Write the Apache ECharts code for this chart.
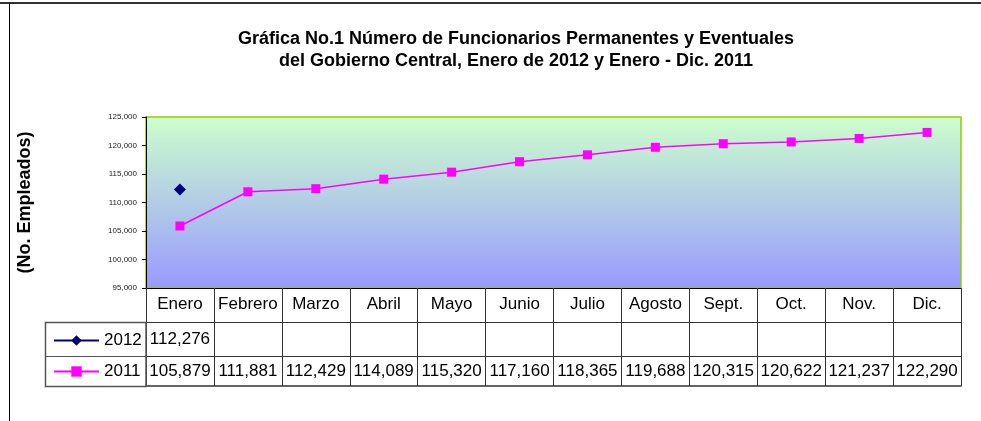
<!DOCTYPE html>
<html>
<head>
<meta charset="utf-8">
<script src="https://cdn.jsdelivr.net/npm/echarts@6/dist/echarts.min.js"></script>
<style>
html,body{margin:0;padding:0;background:#fff;}
#c{width:981px;height:421px;}
</style>
</head>
<body>
<div id="c"></div>
<script>
var categories = ['Enero','Febrero','Marzo','Abril','Mayo','Junio','Julio','Agosto','Sept.','Oct.','Nov.','Dic.'];
var values2012 = [112276, null, null, null, null, null, null, null, null, null, null, null];
var values2011 = [105879, 111881, 112429, 114089, 115320, 117160, 118365, 119688, 120315, 120622, 121237, 122290];
var seriesNames = ['2012', '2011'];
var yTicks = { min: 95000, max: 125000, interval: 5000 };

function fmt(v){ return (v === null || v === undefined) ? '' : Number(v).toLocaleString('en-US'); }

var FONT = 'Arial, "Liberation Sans", sans-serif';
var LINE = '#333333';

var chart = echarts.init(document.getElementById('c'), null, {renderer: 'canvas'});
chart.setOption({
  backgroundColor: '#ffffff',
  animation: false,
  title: {
    text: 'Gráfica No.1 Número de Funcionarios Permanentes y Eventuales\ndel Gobierno Central, Enero de 2012 y Enero - Dic. 2011',
    left: 511, top: 23, textAlign: 'center',
    textStyle: { fontFamily: FONT, fontSize: 18, fontWeight: 'bold', color: '#000', lineHeight: 22 }
  },
  legend: {
    orient: 'vertical', left: 48, top: 327,
    data: seriesNames,
    itemWidth: 45, itemHeight: 13, itemGap: 14,
    textStyle: { fontFamily: FONT, fontSize: 17, color: '#000', lineHeight: 17 },
    selectedMode: false
  },
  grid: {
    left: 146, right: 20, top: 117, bottom: 133,
    show: true, borderColor: '#99CC00', borderWidth: 1.5,
    backgroundColor: new echarts.graphic.LinearGradient(0, 0, 0, 1, [
      { offset: 0, color: '#CCFFCC' },
      { offset: 1, color: '#9999FF' }
    ])
  },
  xAxis: [
    {
      type: 'category', data: categories, position: 'bottom', boundaryGap: true,
      axisLine: { show: true, lineStyle: { color: '#000', width: 1 } },
      axisTick: { show: true, interval: 0, length: 34, lineStyle: { color: LINE } },
      axisLabel: { interval: 0, margin: 8, fontFamily: FONT, fontSize: 17, color: '#000' },
      splitLine: { show: false }
    },
    {
      type: 'category', data: categories, position: 'bottom', offset: 34, boundaryGap: true,
      axisLine: { show: true, lineStyle: { color: LINE, width: 1 } },
      axisTick: { show: true, interval: 0, length: 34, lineStyle: { color: LINE } },
      axisLabel: { interval: 0, margin: 9, fontFamily: FONT, fontSize: 17, color: '#000',
        formatter: function (v, i) { return fmt(values2012[i]); } }
    },
    {
      type: 'category', data: categories, position: 'bottom', offset: 68, boundaryGap: true,
      axisLine: { show: true, lineStyle: { color: LINE, width: 1 } },
      axisTick: { show: true, interval: 0, length: 30, lineStyle: { color: LINE } },
      axisLabel: { interval: 0, margin: 7, fontFamily: FONT, fontSize: 17, color: '#000',
        formatter: function (v, i) { return fmt(values2011[i]); } }
    },
    {
      type: 'category', data: categories, position: 'bottom', offset: 98, boundaryGap: true,
      axisLine: { show: true, lineStyle: { color: LINE, width: 1.5 } },
      axisTick: { show: false }, axisLabel: { show: false }
    }
  ],
  yAxis: {
    type: 'value', min: yTicks.min, max: yTicks.max, interval: yTicks.interval,
    name: '(No. Empleados)', nameLocation: 'middle', nameGap: 112, nameRotate: 90,
    nameTextStyle: { fontFamily: FONT, fontSize: 18, fontWeight: 'bold', color: '#000' },
    axisLine: { show: true, lineStyle: { color: '#000', width: 1 } },
    axisTick: { show: true, length: 4, lineStyle: { color: '#000' } },
    axisLabel: { margin: 9, fontFamily: FONT, fontSize: 8, color: '#222', formatter: function (v) { return fmt(v); } },
    splitLine: { show: false }
  },
  series: [
    {
      name: seriesNames[0], type: 'line', data: values2012, xAxisIndex: 0,
      symbol: 'diamond', symbolSize: 12, showAllSymbol: true, connectNulls: false,
      itemStyle: { color: '#000080' }, lineStyle: { color: '#000080', width: 1.5 }
    },
    {
      name: seriesNames[1], type: 'line', data: values2011, xAxisIndex: 0,
      symbol: 'rect', symbolSize: 9, showAllSymbol: true,
      itemStyle: { color: '#FF00FF' }, lineStyle: { color: '#FF00FF', width: 1.5 }
    }
  ],
  graphic: [
    { type: 'line', shape: { x1: 0, y1: 3, x2: 981, y2: 3 }, style: { stroke: '#333', lineWidth: 2 } },
    { type: 'line', shape: { x1: 9.5, y1: 3, x2: 9.5, y2: 421 }, style: { stroke: '#000', lineWidth: 1 } },
    { type: 'rect', shape: { x: 45.5, y: 322.5, width: 100.5, height: 64 }, style: { fill: 'none', stroke: '#555', lineWidth: 1.5 }, z: 10 },
    { type: 'line', shape: { x1: 45, y1: 356.5, x2: 146, y2: 356.5 }, style: { stroke: '#555', lineWidth: 1 }, z: 10 }
  ]
});
</script>
</body>
</html>
